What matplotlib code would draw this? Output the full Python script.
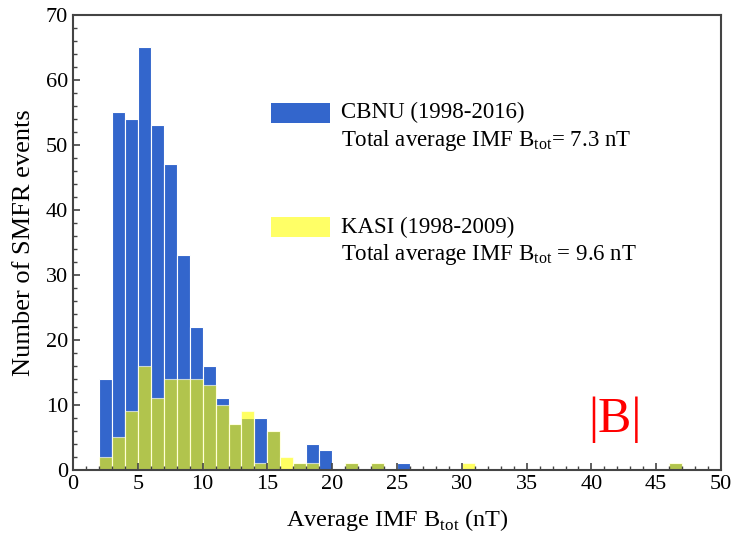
import numpy as np
import matplotlib
matplotlib.use("Agg")
import matplotlib.pyplot as plt
from matplotlib.patches import Rectangle
from matplotlib.ticker import MultipleLocator

plt.rcParams['font.family'] = ['Liberation Serif', 'DejaVu Serif']
plt.rcParams['mathtext.fontset'] = 'custom'
plt.rcParams['mathtext.rm'] = 'Liberation Serif'

# histogram counts per 1 nT bin, bins start at 2 nT
bin_left = np.arange(2, 48)
cbnu = [14, 55, 54, 65, 53, 47, 33, 22, 16, 11, 7, 8, 8, 6, 0, 1, 4, 3, 0, 1,
        0, 1, 0, 1, 0, 0, 0, 0, 0, 0, 0, 0, 0, 0, 0, 0, 0, 0, 0, 0, 0, 0, 0, 0, 1, 0]
kasi = [2, 5, 9, 16, 11, 14, 14, 14, 13, 10, 7, 9, 1, 6, 2, 1, 1, 0, 0, 1,
        0, 1, 0, 0, 0, 0, 0, 0, 1, 0, 0, 0, 0, 0, 0, 0, 0, 0, 0, 0, 0, 0, 0, 0, 1, 0]

blue = '#3366cc'
yellow = '#ffff00'
axis_gray = '#444444'

fig = plt.figure(figsize=(7.35, 5.34), dpi=100)
ax = fig.add_axes([0.0993, 0.120, 0.8817, 0.852])

ax.bar(bin_left, cbnu, width=1, align='edge', color=blue,
       edgecolor='white', linewidth=0.8)
ax.bar(bin_left, kasi, width=1, align='edge', color=yellow, alpha=0.62,
       edgecolor='white', linewidth=0.8)

ax.set_xlim(0, 50)
ax.set_ylim(0, 70)
ax.xaxis.set_major_locator(MultipleLocator(5))
ax.xaxis.set_minor_locator(MultipleLocator(1))
ax.yaxis.set_major_locator(MultipleLocator(10))
ax.yaxis.set_minor_locator(MultipleLocator(2))
ax.tick_params(which='both', direction='in', color=axis_gray, labelsize=16,
               top=False, right=False)
ax.tick_params(which='major', length=5, width=1.2)
ax.tick_params(which='minor', length=3, width=1.0)
ax.tick_params(axis='x', pad=4)
for s in ax.spines.values():
    s.set_color(axis_gray)
    s.set_linewidth(1.5)

ax.set_xlabel('Average IMF B$_{\\rm tot}$ (nT)', fontsize=17.5, labelpad=9)
ax.set_ylabel('Number of SMFR events', fontsize=19, labelpad=8)

# legend entries drawn by hand so the swatch lines up with the first line
entries = [
    (blue, 1.0, 'CBNU (1998-2016)', 'Total average IMF B$_{\\rm tot}$= 7.3 nT', 0.763),
    (yellow, 0.6, 'KASI (1998-2009)', 'Total average IMF B$_{\\rm tot}$ = 9.6 nT', 0.512),
]
for col, a, l1, l2, yy in entries:
    ax.add_patch(Rectangle((0.306, yy), 0.091, 0.044, transform=ax.transAxes,
                           facecolor=col, alpha=a, edgecolor='none',
                           clip_on=False))
    ax.text(0.413, yy + 0.022, l1, transform=ax.transAxes, fontsize=16.5,
            va='center', ha='left')
    ax.text(0.413, yy - 0.038, l2, transform=ax.transAxes, fontsize=16.5,
            va='center', ha='left')

ax.text(0.837, 0.11, '|B|', transform=ax.transAxes, color='red', fontsize=36,
        ha='center', va='center')

fig.savefig('out.png', dpi=100)
